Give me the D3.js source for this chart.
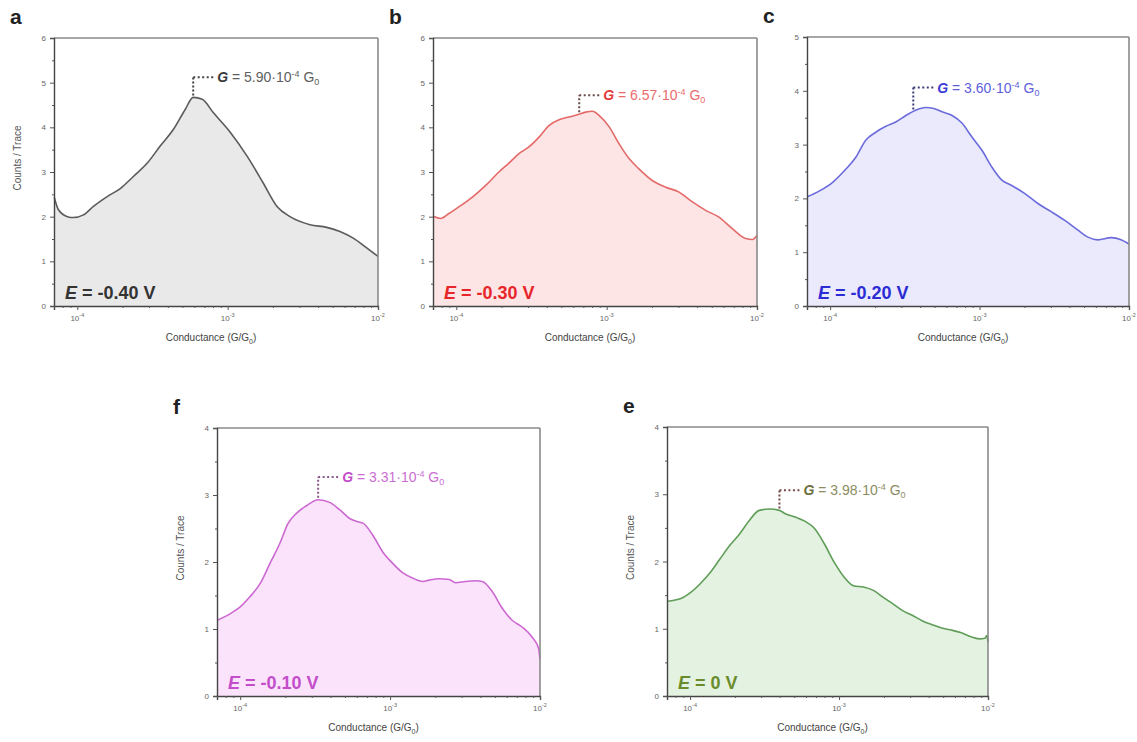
<!DOCTYPE html>
<html>
<head>
<meta charset="utf-8">
<script src="https://cdn.jsdelivr.net/npm/d3@7"></script>
<style>
  body { margin: 0; background: #fff; }
  svg { display: block; font-family: "Liberation Sans", Arial, sans-serif; }
</style>
</head>
<body>
<svg id="fig" width="1137" height="742"></svg>
<script>
// ---- Conductance histograms (G in units of G0, counts per trace) ----
const condA = [7.03e-5, 7.48e-5, 8.59e-5, 9.40e-5, 1.10e-4, 1.28e-4, 1.58e-4, 1.93e-4, 2.36e-4, 2.92e-4, 3.56e-4, 4.35e-4, 5.22e-4, 5.90e-4, 6.78e-4, 8.02e-4, 1.04e-3, 1.35e-3, 1.72e-3, 2.13e-3, 2.60e-3, 3.53e-3, 4.56e-3, 5.58e-3, 6.85e-3, 8.41e-3, 1.00e-2];
const countsA = [2.43, 2.16, 2.00, 1.98, 2.04, 2.23, 2.45, 2.63, 2.90, 3.20, 3.58, 3.95, 4.40, 4.67, 4.63, 4.33, 3.89, 3.35, 2.76, 2.23, 2.00, 1.82, 1.76, 1.67, 1.52, 1.30, 1.11];

const condB = [7.03e-5, 7.87e-5, 8.93e-5, 1.04e-4, 1.28e-4, 1.57e-4, 1.92e-4, 2.24e-4, 2.61e-4, 3.04e-4, 3.55e-4, 4.13e-4, 4.82e-4, 5.61e-4, 6.22e-4, 7.24e-4, 8.04e-4, 8.89e-4, 1.04e-3, 1.21e-3, 1.41e-3, 1.64e-3, 2.01e-3, 2.47e-3, 3.03e-3, 3.72e-3, 4.56e-3, 5.58e-3, 6.85e-3, 8.41e-3, 9.31e-3, 1.00e-2];
const countsB = [2.01, 1.96, 2.07, 2.22, 2.44, 2.70, 3.00, 3.20, 3.41, 3.56, 3.78, 4.04, 4.17, 4.23, 4.27, 4.34, 4.36, 4.27, 4.01, 3.63, 3.30, 3.07, 2.81, 2.66, 2.55, 2.33, 2.14, 1.99, 1.73, 1.51, 1.49, 1.58];

const condC = [7.03e-5, 8.49e-5, 1.04e-4, 1.28e-4, 1.49e-4, 1.73e-4, 2.02e-4, 2.36e-4, 2.75e-4, 3.21e-4, 3.73e-4, 4.36e-4, 4.94e-4, 5.61e-4, 6.55e-4, 7.62e-4, 8.89e-4, 1.04e-3, 1.21e-3, 1.41e-3, 1.64e-3, 2.01e-3, 2.47e-3, 3.03e-3, 3.72e-3, 4.56e-3, 5.31e-3, 6.19e-3, 7.59e-3, 8.85e-3, 1.00e-2];
const countsC = [2.03, 2.14, 2.30, 2.55, 2.77, 3.08, 3.23, 3.34, 3.42, 3.54, 3.64, 3.69, 3.67, 3.61, 3.54, 3.40, 3.14, 2.89, 2.58, 2.34, 2.24, 2.09, 1.90, 1.75, 1.59, 1.41, 1.28, 1.23, 1.27, 1.23, 1.15];

const condF = [7.03e-5, 8.59e-5, 1.00e-4, 1.16e-4, 1.36e-4, 1.58e-4, 1.84e-4, 2.09e-4, 2.38e-4, 2.77e-4, 3.31e-4, 3.95e-4, 4.61e-4, 5.37e-4, 6.10e-4, 6.59e-4, 7.67e-4, 8.93e-4, 1.04e-3, 1.21e-3, 1.41e-3, 1.65e-3, 1.82e-3, 2.12e-3, 2.48e-3, 2.74e-3, 3.19e-3, 3.72e-3, 4.12e-3, 4.80e-3, 5.60e-3, 6.52e-3, 7.60e-3, 8.85e-3, 9.79e-3, 1.00e-2];
const countsF = [1.13, 1.23, 1.33, 1.48, 1.68, 1.98, 2.28, 2.58, 2.73, 2.84, 2.93, 2.89, 2.78, 2.65, 2.60, 2.58, 2.40, 2.15, 1.98, 1.84, 1.76, 1.71, 1.73, 1.75, 1.74, 1.69, 1.71, 1.72, 1.71, 1.56, 1.31, 1.13, 1.03, 0.88, 0.71, 0.55];

const condE = [7.03e-5, 8.69e-5, 1.01e-4, 1.17e-4, 1.37e-4, 1.59e-4, 1.85e-4, 2.15e-4, 2.50e-4, 2.91e-4, 3.39e-4, 3.98e-4, 4.36e-4, 5.07e-4, 5.89e-4, 6.85e-4, 7.98e-4, 9.27e-4, 1.08e-3, 1.25e-3, 1.46e-3, 1.70e-3, 1.97e-3, 2.30e-3, 2.67e-3, 3.10e-3, 3.61e-3, 4.21e-3, 4.89e-3, 5.69e-3, 6.62e-3, 7.69e-3, 8.71e-3, 9.55e-3, 9.82e-3, 1.00e-2];
const countsE = [1.41, 1.45, 1.54, 1.67, 1.84, 2.04, 2.24, 2.41, 2.61, 2.76, 2.78, 2.76, 2.71, 2.66, 2.60, 2.49, 2.26, 1.99, 1.77, 1.64, 1.62, 1.57, 1.47, 1.37, 1.27, 1.20, 1.12, 1.06, 1.01, 0.98, 0.94, 0.88, 0.85, 0.86, 0.90, 0.80];

const panelLetters = ["a", "b", "c", "f", "e"];
const potentials = ["-0.40", "-0.30", "-0.20", "-0.10", "0"];
const peakG = [5.90e-4, 6.57e-4, 3.60e-4, 3.31e-4, 3.98e-4];
const peakText = ["5.90", "6.57", "3.60", "3.31", "3.98"];
const labelLevel = [5.12, 4.72, 4.06, 3.27, 3.06];
const yMax = [6, 6, 5, 4, 4];
const xDecades = [1e-4, 1e-3, 1e-2];
const xDecadeExp = ["-4", "-3", "-2"];
const xDomain = [7.0e-5, 1.0e-2];

const series = [
  { g: condA, c: countsA }, { g: condB, c: countsB }, { g: condC, c: countsC },
  { g: condF, c: countsF }, { g: condE, c: countsE }
];

// ---- layout and style ----
const boxes = [
  { x: 54,  y: 38,  w: 324, h: 268, yTitle: true },
  { x: 433, y: 38,  w: 324, h: 268, yTitle: false },
  { x: 807, y: 37,  w: 322, h: 269, yTitle: false },
  { x: 217, y: 428, w: 323, h: 268, yTitle: true },
  { x: 667, y: 427, w: 321, h: 269, yTitle: true }
];
const styles = [
  { line: "#5b5b5b", fill: "#e9e9e9", eCol: "#333333", gBold: "#3a3a3a", gText: "#5e5e5e", dots: "#444" },
  { line: "#e46a6a", fill: "#fde5e5", eCol: "#e8262a", gBold: "#e33a3a", gText: "#ea6b6b", dots: "#6a4a4a" },
  { line: "#6b6bdc", fill: "#eaeafc", eCol: "#2c2cd4", gBold: "#3b3bd6", gText: "#5e5edb", dots: "#3d3d7a" },
  { line: "#cd68d2", fill: "#fbe4fb", eCol: "#c34dca", gBold: "#c24ec9", gText: "#cb6ed2", dots: "#8a5a8c" },
  { line: "#5f9d58", fill: "#e4f2e1", eCol: "#6b8c2c", gBold: "#6e6e3c", gText: "#8c8c62", dots: "#7a4a4a" }
];

const svg = d3.select("#fig");

series.forEach((s, i) => {
  const b = boxes[i], st = styles[i];
  const x = d3.scaleLog().domain(xDomain).range([b.x, b.x + b.w]);
  const y = d3.scaleLinear().domain([0, yMax[i]]).range([b.y + b.h, b.y]);
  const pts = s.g.map((g, k) => ({ g, c: s.c[k] }));
  const g = svg.append("g");

  // filled histogram area and outline
  g.append("path").datum(pts)
    .attr("fill", st.fill)
    .attr("d", d3.area().x(d => x(d.g)).y0(y(0)).y1(d => y(d.c)).curve(d3.curveMonotoneX));
  g.append("path").datum(pts)
    .attr("fill", "none").attr("stroke", st.line).attr("stroke-width", 1.6)
    .attr("stroke-linejoin", "round")
    .attr("d", d3.line().x(d => x(d.g)).y(d => y(d.c)).curve(d3.curveMonotoneX));

  // frame: top/right lighter, left/bottom carry the axes
  g.append("line").attr("x1", b.x).attr("x2", b.x + b.w).attr("y1", b.y).attr("y2", b.y)
    .attr("stroke", "#8a8a8a").attr("stroke-width", 1.6);
  g.append("line").attr("x1", b.x + b.w).attr("x2", b.x + b.w).attr("y1", b.y).attr("y2", b.y + b.h)
    .attr("stroke", "#8a8a8a").attr("stroke-width", 1.6);

  // y axis: integer majors with half-step minors
  const yMaj = d3.range(0, yMax[i] + 1);
  const yMin = d3.range(0.5, yMax[i], 1);
  const ya = g.append("g").attr("transform", `translate(${b.x},0)`)
    .call(d3.axisLeft(y).tickValues(yMaj).tickSize(4).tickPadding(4).tickFormat(d3.format("d")));
  g.append("g").attr("transform", `translate(${b.x},0)`)
    .call(d3.axisLeft(y).tickValues(yMin).tickSize(2).tickFormat(""))
    .call(a => a.select(".domain").remove());
  ya.selectAll("text").attr("font-size", 8).attr("fill", "#666").attr("font-family", "Liberation Sans, Arial, sans-serif");

  // x axis: decades labelled, intermediate log ticks as minors
  const xa = g.append("g").attr("transform", `translate(0,${b.y + b.h})`)
    .call(d3.axisBottom(x).tickValues(xDecades).tickSize(4).tickPadding(5).tickFormat(""));
  const minors = x.ticks().filter(t => !xDecades.some(dv => Math.abs(dv - t) / dv < 1e-6));
  g.append("g").attr("transform", `translate(0,${b.y + b.h})`)
    .call(d3.axisBottom(x).tickValues(minors).tickSize(2).tickFormat(""))
    .call(a => a.select(".domain").remove());
  xDecades.forEach((dv, k) => {
    const t = g.append("text").attr("x", x(dv)).attr("y", b.y + b.h + 15)
      .attr("text-anchor", "middle").attr("font-size", 8).attr("fill", "#666");
    t.append("tspan").text("10");
    t.append("tspan").attr("dy", -4).attr("font-size", 5.5).text(xDecadeExp[k]);
  });
  [ya, xa].forEach(a => {
    a.select(".domain").attr("stroke", "#444").attr("stroke-width", 1.4);
  });
  g.selectAll(".tick line").attr("stroke", "#555");

  // axis titles
  const xt = g.append("text").attr("x", b.x + b.w / 2 - 5).attr("y", b.y + b.h + 35)
    .attr("text-anchor", "middle").attr("font-size", 10).attr("fill", "#444");
  xt.append("tspan").text("Conductance (G/G");
  xt.append("tspan").attr("dy", 3).attr("font-size", 7).text("0");
  xt.append("tspan").attr("dy", -3).text(")");
  if (b.yTitle) {
    g.append("text")
      .attr("transform", `translate(${b.x - 33},${b.y + b.h / 2 - 14}) rotate(-90)`)
      .attr("text-anchor", "middle").attr("font-size", 10).attr("fill", "#555")
      .text("Counts / Trace");
  }

  // panel letter
  g.append("text").attr("x", b.x - 44).attr("y", b.y - 14)
    .attr("font-size", 21).attr("font-weight", "bold").attr("fill", "#222")
    .text(panelLetters[i]);

  // electrode potential
  const et = g.append("text").attr("x", b.x + 11).attr("y", b.y + b.h - 7)
    .attr("font-size", 18).attr("font-weight", "bold").attr("fill", st.eCol);
  et.append("tspan").attr("font-style", "italic").text("E");
  et.append("tspan").text(" = " + potentials[i] + " V");

  // peak marker: dotted drop line from the peak conductance up to the label
  const bis = d3.bisector(d => d.g).left;
  const k = bis(pts, peakG[i]);
  const p0 = pts[Math.max(0, k - 1)], p1 = pts[Math.min(pts.length - 1, k)];
  const frac = p1.g === p0.g ? 0 : (Math.log(peakG[i]) - Math.log(p0.g)) / (Math.log(p1.g) - Math.log(p0.g));
  const cAt = p0.c + frac * (p1.c - p0.c);
  const px = x(peakG[i]);
  g.append("line").attr("x1", px).attr("x2", px).attr("y1", y(cAt) - 2).attr("y2", y(labelLevel[i]))
    .attr("stroke", st.dots).attr("stroke-width", 2).attr("stroke-dasharray", "2,2");
  g.append("line").attr("x1", px).attr("x2", px + 21).attr("y1", y(labelLevel[i])).attr("y2", y(labelLevel[i]))
    .attr("stroke", st.dots).attr("stroke-width", 2).attr("stroke-dasharray", "2,2.5");
  const gt = g.append("text").attr("x", px + 24).attr("y", y(labelLevel[i]) + 5)
    .attr("font-size", 14).attr("fill", st.gText);
  gt.append("tspan").attr("font-weight", "bold").attr("font-style", "italic").attr("fill", st.gBold).text("G");
  gt.append("tspan").text(" = " + peakText[i] + "\u00B710");
  gt.append("tspan").attr("dy", -5).attr("font-size", 9).text("-4");
  gt.append("tspan").attr("dy", 5).text(" G");
  gt.append("tspan").attr("dy", 3).attr("font-size", 9).text("0");
});
</script>
</body>
</html>
